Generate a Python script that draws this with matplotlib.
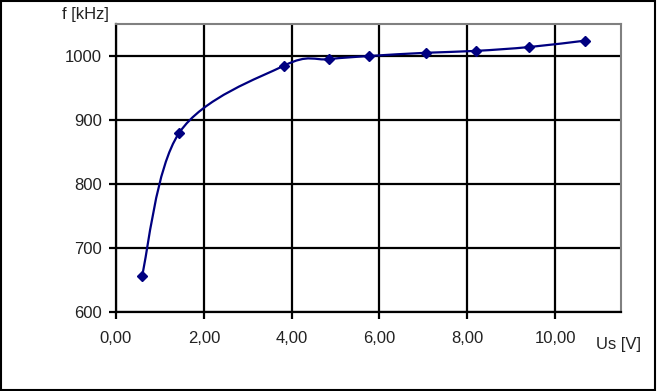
import numpy as np
import matplotlib.pyplot as plt
from matplotlib.path import Path
from matplotlib.patches import PathPatch, Rectangle
from matplotlib.ticker import FuncFormatter

plt.rcParams['font.family'] = ['Liberation Sans', 'DejaVu Sans']

# measured points
us_v = [0.59, 1.44, 3.83, 4.84, 5.77, 7.05, 8.20, 9.41, 10.68]
f_khz = [656, 880, 985, 995, 1000, 1005, 1008, 1014, 1024]
x_ticks = [0, 2, 4, 6, 8, 10]
y_ticks = [600, 700, 800, 900, 1000]


def smooth_path(xs, ys):
    # Excel-like smoothed line: cubic bezier segments through every point
    pts = np.column_stack([xs, ys]).astype(float)
    n = len(pts)
    verts = [pts[0]]
    codes = [Path.MOVETO]
    for i in range(n - 1):
        p0 = pts[i - 1] if i > 0 else pts[i]
        p1 = pts[i]
        p2 = pts[i + 1]
        p3 = pts[i + 2] if i + 2 < n else pts[i + 1]
        c1 = p1 + (p2 - p0) / 6.0
        c2 = p2 - (p3 - p1) / 6.0
        verts += [c1, c2, p2]
        codes += [Path.CURVE4] * 3
    return Path(verts, codes)


fig = plt.figure(figsize=(6.57, 3.91), dpi=100)
ax = fig.add_axes([116 / 657, 1 - 312 / 391, 505 / 657, 288 / 391])

ax.set_xlim(0, 11.5)
ax.set_ylim(600, 1050)
ax.set_xticks(x_ticks)
ax.set_yticks(y_ticks)
ax.xaxis.set_major_formatter(FuncFormatter(lambda v, p: f"{v:.2f}".replace('.', ',')))

ax.grid(True, color='black', linewidth=1.6)
ax.set_axisbelow(True)
for s in ['top', 'right']:
    ax.spines[s].set_color('#808080')
    ax.spines[s].set_linewidth(1.5)
for s in ['left', 'bottom']:
    ax.spines[s].set_color('black')
    ax.spines[s].set_linewidth(1.6)
ax.tick_params(axis='both', direction='out', length=5, width=1.6, colors='black',
               labelsize=12, labelcolor='#222222', pad=5)
ax.tick_params(axis='x', pad=9)

patch = PathPatch(smooth_path(us_v, f_khz), facecolor='none', edgecolor='#000080',
                  linewidth=1.6, zorder=3)
ax.add_patch(patch)
ax.plot(us_v, f_khz, linestyle='none', marker='D', markersize=5,
        color='#000080', zorder=4)

fig.text(85 / 657, 1 - 15 / 391, 'f [kHz]', ha='center', va='center',
         fontsize=12, color='#222222')
fig.text(618 / 657, 1 - 345 / 391, 'Us [V]', ha='center', va='center',
         fontsize=12, color='#222222')

fig.patches.append(Rectangle((0.0015, 0.0025), 0.996, 0.994, transform=fig.transFigure,
                             fill=False, edgecolor='black', linewidth=1.5))

fig.savefig('out.png', dpi=100)
